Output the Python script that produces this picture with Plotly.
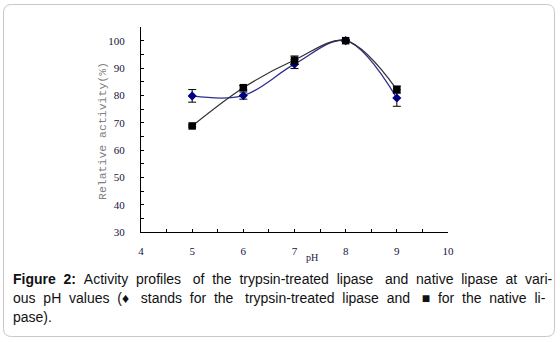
import plotly.graph_objects as go

# ---- data ----
ph = [5, 6, 7, 8, 9]
treated = [79.8, 79.9, 91.4, 100, 79.0]
treated_err = [2.3, 1.3, 1.6, 0.3, 3.0]
native = [68.8, 82.8, 92.9, 100, 82.1]
native_err = [0.4, 0.8, 1.5, 0.3, 1.3]

y_tickvals = [30, 35, 40, 45, 50, 55, 60, 65, 70, 75, 80, 85, 90, 95, 100, 105]
y_ticktext = ["30", "", "40", "", "50", "", "60", "", "70", "", "80", "", "90", "", "100", ""]
x_tickvals = [4, 4.5, 5, 5.5, 6, 6.5, 7, 7.5, 8, 8.5, 9, 9.5, 10]
x_ticktext = ["4", "", "5", "", "6", "", "7", "", "8", "", "9", "", "10"]

NB = "\u00a0"
caption_lines = [
    "<b>Figure 2:</b> Activity profiles of the trypsin-treated lipase and native lipase at vari-",
    "ous pH values (\u2666 stands for the trypsin-treated lipase and \u25a0 for the native li-",
    "pase).",
]
caption_justify = [True, True, False]
caption_extra = [2, 3, 0]   # extra spaces to fill justified lines

W, H = 560, 342
ML, MR, MT, MB = 141, 112, 27, 110
PW, PH = W - ML - MR, H - MT - MB


def px(x):
    return (x - ML) / PW


def py(y):
    return (H - MB - y) / PH


fig = go.Figure()

fig.add_trace(go.Scatter(
    x=ph, y=treated, mode="lines+markers",
    line=dict(color="#2e2e90", width=1.3, shape="spline", smoothing=1.0),
    marker=dict(symbol="diamond", size=7, color="#000080"),
    error_y=dict(type="data", array=treated_err, color="black", thickness=1, width=4),
    showlegend=False,
))
fig.add_trace(go.Scatter(
    x=ph, y=native, mode="lines+markers",
    line=dict(color="#303030", width=1.2, shape="spline", smoothing=1.0),
    marker=dict(symbol="square", size=7.5, color="black"),
    error_y=dict(type="data", array=native_err, color="black", thickness=1, width=4),
    showlegend=False,
))

axis_common = dict(
    showline=True, linecolor="black", linewidth=1.3,
    ticks="inside", ticklen=3, tickcolor="black",
    showgrid=False, zeroline=False,
    tickfont=dict(family="Liberation Serif", size=11, color="#14143c"),
)

fig.update_xaxes(range=[4, 10], tickvals=x_tickvals, ticktext=x_ticktext,
                 ticklabelstandoff=9, **axis_common)
fig.update_yaxes(range=[30, 105], tickvals=y_tickvals, ticktext=y_ticktext,
                 ticklabelstandoff=13, **axis_common)

annotations = []
# y-axis title
annotations.append(dict(
    text="Relative activity(%)", textangle=-90,
    x=px(102), y=py(131), xref="paper", yref="paper",
    xanchor="center", yanchor="middle", showarrow=False,
    font=dict(family="Liberation Mono", size=11.5, color="#808080"),
))
# x-axis title
annotations.append(dict(
    text="pH", x=px(312), y=py(257), xref="paper", yref="paper",
    xanchor="center", yanchor="middle", showarrow=False,
    font=dict(family="Liberation Serif", size=10, color="#14143c"),
))
cap_y = [279, 298, 317]
for line, just, extra, yy in zip(caption_lines, caption_justify, caption_extra, cap_y):
    if just:
        parts = line.split(" ")
        ngaps = len(parts) - 1
        step = ngaps / (extra + 1) if extra else None
        extra_idx = {int(round(step * (k + 1))) for k in range(extra)} if extra else set()
        out = parts[0]
        for i, p in enumerate(parts[1:], start=1):
            gap = NB + NB + (NB if i in extra_idx else "")
            out += gap + p
        line = out
    annotations.append(dict(
        text=line, x=px(11), y=py(yy), xref="paper", yref="paper",
        xanchor="left", yanchor="middle", showarrow=False,
        font=dict(family="Liberation Sans", size=14, color="#111111"),
    ))

# rounded border
x0, x1, y0, y1, r = 3.5, 554.5, 4.5, 336.5, 8
path = (
    f"M {px(x0 + r)},{py(y0)} L {px(x1 - r)},{py(y0)} "
    f"Q {px(x1)},{py(y0)} {px(x1)},{py(y0 + r)} "
    f"L {px(x1)},{py(y1 - r)} Q {px(x1)},{py(y1)} {px(x1 - r)},{py(y1)} "
    f"L {px(x0 + r)},{py(y1)} Q {px(x0)},{py(y1)} {px(x0)},{py(y1 - r)} "
    f"L {px(x0)},{py(y0 + r)} Q {px(x0)},{py(y0)} {px(x0 + r)},{py(y0)} Z"
)

fig.update_layout(
    width=W, height=H,
    margin=dict(l=ML, r=MR, t=MT, b=MB),
    paper_bgcolor="white", plot_bgcolor="white",
    annotations=annotations,
    shapes=[dict(type="path", path=path, xref="paper", yref="paper",
                 line=dict(color="#c8c8c8", width=1), layer="above")],
)

fig.write_html("out.html", config={"displayModeBar": False},
               post_script="document.body.style.margin='0';")
